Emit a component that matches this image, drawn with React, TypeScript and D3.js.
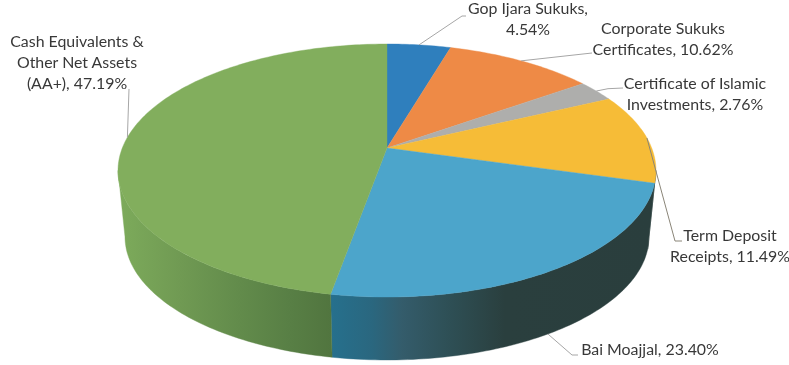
import React from "react";
import * as d3 from "d3";

// Portfolio allocation, clockwise from twelve o'clock
const categories = [
  "Gop Ijara Sukuks",
  "Corporate Sukuks Certificates",
  "Certificate of Islamic Investments",
  "Term Deposit Receipts",
  "Bai Moajjal",
  "Cash Equivalents & Other Net Assets (AA+)",
];
const shares = [4.54, 10.62, 2.76, 11.49, 23.4, 47.19];
const topColors = ["#2f7fbd", "#ee8a46", "#aeaeac", "#f6bc37", "#4ca5cb", "#82ae5d"];
const wallColors = ["#24557a", "#a8602f", "#7a7a7a", "#2a3e3d", "#2a3f3e", "#527a42"];

const labelLines = [
  ["Gop Ijara Sukuks,", "4.54%"],
  ["Corporate Sukuks", "Certificates, 10.62%"],
  ["Certificate of Islamic", "Investments, 2.76%"],
  ["Term Deposit", "Receipts, 11.49%"],
  ["Bai Moajjal, 23.40%"],
  ["Cash Equivalents &", "Other Net Assets", "(AA+), 47.19%"],
];
const labelCenters: [number, number][] = [
  [528, 14],
  [663, 34],
  [695, 89],
  [730, 241],
  [650, 355],
  [77, 47],
];
// Bend and end of each leader line
const leaderBends: [number, number][][] = [
  [[462, 16], [466, 16]],
  [[592, 53]],
  [[608, 88.7], [623, 88]],
  [[675, 241], [682, 241]],
  [[572, 355], [578, 355]],
  [[129, 89]],
];
const LINE_HEIGHT = 21;

// Perspective projection of the disc
const W = 789;
const H = 365;
const cx = 387;
const cy = 148;
const persp = 0.178;
const scaleX = 264.7;
const scaleY = 122.5;
// The base of the cylinder shrinks toward a vanishing point below the chart
const vanishY = 2719;
const baseScale = 0.974;

type Pt = [number, number];
const project = (theta: number): Pt => {
  const X = Math.sin(theta);
  const Y = -Math.cos(theta);
  const w = 1 - persp * Y;
  return [cx + (scaleX * X) / w, cy + (scaleY * Y) / w];
};
const toBase = ([x, y]: Pt): Pt => [
  cx + (x - cx) * baseScale,
  vanishY + (y - vanishY) * baseScale,
];
const sample = (a0: number, a1: number) => {
  const n = Math.max(2, Math.ceil(((a1 - a0) * 180) / Math.PI));
  return d3.range(n + 1).map((i) => a0 + ((a1 - a0) * i) / n);
};
const pathOf = d3.line<Pt>().x((p) => p[0]).y((p) => p[1]);

// Part of the rim that faces the viewer
const rimAngle = Math.acos(-persp);
const rimStart = rimAngle;
const rimEnd = 2 * Math.PI - rimAngle;

const slices = d3.pie<number>().sort(null).value((d) => d)(shares);

const blueStops: [number, string][] = [
  [331, "#26708d"],
  [372, "#2a677f"],
  [402, "#345c6b"],
  [450, "#2e4f55"],
  [505, "#2a3f3e"],
  [655, "#2a3e3d"],
];
const greenStops: [number, string][] = [
  [118, "#7dab5b"],
  [180, "#709a53"],
  [240, "#628b4b"],
  [290, "#587f45"],
  [332, "#51753f"],
];

export default function App() {
  return (
    <svg
      width={W}
      height={H}
      viewBox={`0 0 ${W} ${H}`}
      style={{ position: "fixed", left: 0, top: 0, display: "block" }}
      fontFamily="Lato, 'Open Sans', sans-serif"
    >
      <defs>
        <linearGradient id="wall-4" gradientUnits="userSpaceOnUse" x1={331} x2={655} y1={0} y2={0}>
          {blueStops.map(([x, c]) => (
            <stop key={x} offset={(x - 331) / 324} stopColor={c} />
          ))}
        </linearGradient>
        <linearGradient id="wall-5" gradientUnits="userSpaceOnUse" x1={118} x2={332} y1={0} y2={0}>
          {greenStops.map(([x, c]) => (
            <stop key={x} offset={(x - 118) / 214} stopColor={c} />
          ))}
        </linearGradient>
      </defs>

      {/* Side wall of the cylinder */}
      {slices.map((s, i) => {
        const a0 = Math.max(s.startAngle, rimStart);
        const a1 = Math.min(s.endAngle, rimEnd);
        if (a1 <= a0) return null;
        const upper = sample(a0, a1).map(project);
        const lower = upper.map(toBase).reverse();
        const fill = i >= 4 ? `url(#wall-${i})` : wallColors[i];
        return (
          <path key={i} d={pathOf([...upper, ...lower])! + "Z"} fill={fill} stroke={fill} strokeWidth={0.4} />
        );
      })}

      {/* Top face */}
      {slices.map((s, i) => {
        const rim = sample(s.startAngle, s.endAngle).map(project);
        return (
          <path
            key={i}
            d={pathOf([[cx, cy], ...rim])! + "Z"}
            fill={topColors[i]}
            stroke={topColors[i]}
            strokeWidth={0.4}
          />
        );
      })}

      {/* Leader lines start at each slice's mid angle */}
      {slices.map((s, i) => {
        const mid = (s.startAngle + s.endAngle) / 2;
        const edge = project(mid);
        // Bai Moajjal sits at the front, so its leader leaves from the base rim
        const start = i === 4 ? toBase(edge) : edge;
        return (
          <path
            key={i}
            d={pathOf([start, ...leaderBends[i]])!}
            fill="none"
            stroke={i === 3 ? "#8a8578" : "#a6a6a6"}
            strokeWidth={1}
          />
        );
      })}

      {/* Data labels */}
      {labelLines.map((lines, i) => (
        <text key={i} textAnchor="middle" fontSize={15.9} fill="#383838">
          {lines.map((t, j) => (
            <tspan key={j} x={labelCenters[i][0]} y={labelCenters[i][1] + j * LINE_HEIGHT}>
              {t}
            </tspan>
          ))}
        </text>
      ))}
    </svg>
  );
}
